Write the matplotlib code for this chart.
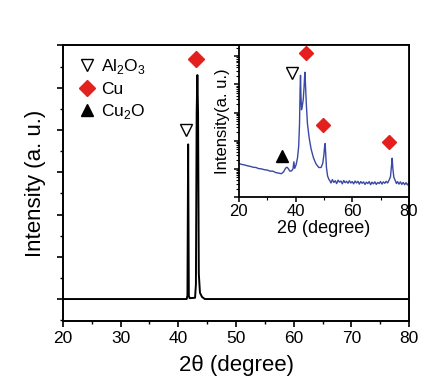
import matplotlib
matplotlib.use("Agg")
import matplotlib.pyplot as plt
from matplotlib.lines import Line2D
from matplotlib.ticker import MultipleLocator, LogLocator, NullFormatter

plt.rcParams['font.family'] = ['Liberation Sans', 'DejaVu Sans']
plt.rcParams['mathtext.fontset'] = 'custom'
plt.rcParams['mathtext.rm'] = 'Liberation Sans'

# ---------------- data ----------------
# main pattern (linear intensity, arbitrary units)
main_x = [20, 41.45, 41.58, 41.7, 41.82, 41.95, 42.9, 43.05, 43.18, 43.3, 43.42, 43.55, 43.75, 44.1, 44.6, 80]
main_y = [0, 0, 0.08, 3.66, 0.08, 0.02, 0.03, 0.35, 4.4, 5.3, 4.4, 0.6, 0.15, 0.05, 0.0, 0]

# inset pattern (log10 of intensity)
ins_x = [20, 21, 22, 23, 24, 25, 26, 27, 28, 29, 30, 31, 32, 33, 34, 35, 35.8, 36.5, 37, 37.5,
         38, 38.6, 39.1, 39.4, 39.7, 40.2, 40.7, 41.1, 41.4, 41.6, 41.75, 41.9, 42.1, 42.4, 42.7,
         43.0, 43.2, 43.35, 43.5, 43.8, 44.2, 44.8, 45.5, 46.3, 47.2, 48.2, 49.0, 49.6, 50.0, 50.3,
         50.45, 50.6, 50.9, 51.3, 51.8,
         52.0, 52.5, 53.0, 53.5, 54.0, 54.5, 55.0, 55.5, 56.0, 56.5, 57.0, 57.5, 58.0, 58.5, 59.0,
         59.5, 60.0, 60.5, 61.0, 61.5, 62.0, 62.5, 63.0, 63.5, 64.0, 64.5, 65.0, 65.5, 66.0, 66.5,
         67.0, 67.5, 68.0, 68.5, 69.0, 69.5, 70.0, 70.5, 71.0, 71.5, 72.0, 72.5, 73.0, 73.5, 73.85,
         74.1, 74.35, 74.7, 75.2, 75.6, 76.0, 76.5, 77.0, 77.5, 78.0, 78.5, 79.0, 79.5, 80.0]
ins_log = [1.19, 1.16, 1.14, 1.11, 1.09, 1.06, 1.05, 1.01, 1.00, 0.97, 0.96, 0.92, 0.92, 0.87, 0.85, 0.83, 0.90, 1.03, 1.06, 1.00,
           0.92, 0.93, 1.00, 1.25, 1.02, 1.15, 1.40, 1.80, 2.60, 3.80, 4.32, 3.60, 3.10, 3.25, 3.45,
           3.90, 4.30, 4.43, 4.00, 3.30, 2.60, 2.10, 1.70, 1.40, 1.18, 1.05, 1.05, 1.20, 1.50, 1.85,
           1.90, 1.60, 1.05, 0.75, 0.62,
           0.60, 0.50, 0.62, 0.52, 0.58, 0.48, 0.60, 0.53, 0.57, 0.47, 0.59, 0.51, 0.56, 0.49, 0.58,
           0.50, 0.55, 0.47, 0.57, 0.50, 0.56, 0.46, 0.55, 0.49, 0.54, 0.45, 0.53, 0.48, 0.55, 0.44,
           0.53, 0.47, 0.54, 0.45, 0.52, 0.48, 0.55, 0.46, 0.54, 0.49, 0.56, 0.50, 0.60, 0.72, 1.10,
           1.38, 1.00, 0.70, 0.58, 0.48, 0.55, 0.46, 0.54, 0.45, 0.52, 0.44, 0.51, 0.43, 0.50]

# peak markers
main_al2o3 = (41.3, 4.0)
main_cu = (43.05, 5.67)
ins_al2o3 = (38.7, 4.39)
ins_cu = [(43.6, 5.13), (49.6, 2.56), (73.0, 1.96)]
ins_cu2o = (35.2, 1.47)

legend_labels = ['Al$_2$O$_3$', 'Cu', 'Cu$_2$O']

RED = '#e3201e'
BLUE = '#3a48a6'

# ---------------- figure ----------------
fig = plt.figure(figsize=(4.32, 3.79), dpi=100)
ax = fig.add_axes([0.1458, 0.153, 0.801, 0.727])
ax.plot(main_x, main_y, color='black', lw=1.4)
ax.set_xlim(20, 80)
ax.set_ylim(-0.52, 6.0)
ax.xaxis.set_major_locator(MultipleLocator(10))
ax.xaxis.set_minor_locator(MultipleLocator(5))
ax.yaxis.set_major_locator(MultipleLocator(1))
ax.yaxis.set_minor_locator(MultipleLocator(0.5))
ax.set_yticklabels([])
ax.tick_params(which='major', direction='out', length=4, width=1.2, labelsize=12.5, pad=3)
ax.tick_params(which='minor', direction='out', length=2.2, width=1.0)
for s in ax.spines.values():
    s.set_linewidth(1.4)
ax.set_xlabel('2θ (degree)', fontsize=16, labelpad=7)
ax.set_ylabel('Intensity (a. u.)', fontsize=16, labelpad=5)

ax.plot(*main_al2o3, marker='v', ms=8.5, mfc='white', mec='black', mew=1.0, ls='none')
ax.plot(*main_cu, marker='D', ms=8, color=RED, ls='none')

handles = [Line2D([], [], marker='v', ms=8.5, mfc='white', mec='black', mew=1.0, ls='none'),
           Line2D([], [], marker='D', ms=8, color=RED, ls='none'),
           Line2D([], [], marker='^', ms=8.5, color='black', ls='none')]
ax.legend(handles, legend_labels, loc='upper left', bbox_to_anchor=(0.01, 0.995), frameon=False,
          fontsize=12.5, handletextpad=0.2, labelspacing=0.3, handlelength=1.2, borderaxespad=0.2)

# ---------------- inset ----------------
ins = fig.add_axes([0.553, 0.480, 0.3935, 0.400])
ins.plot(ins_x, [10 ** v for v in ins_log], color=BLUE, lw=1.0)
ins.set_yscale('log')
ins.set_xlim(20, 80)
ins.set_ylim(1, 10 ** 5.38)
ins.xaxis.set_major_locator(MultipleLocator(20))
ins.xaxis.set_minor_locator(MultipleLocator(10))
ins.yaxis.set_major_locator(LogLocator(base=10, numticks=10))
ins.yaxis.set_minor_locator(LogLocator(base=10, subs=range(2, 10), numticks=20))
ins.yaxis.set_major_formatter(NullFormatter())
ins.yaxis.set_minor_formatter(NullFormatter())
ins.tick_params(which='major', direction='out', length=3.5, width=1.1, labelsize=12, pad=1.5)
ins.tick_params(which='minor', direction='out', length=2, width=0.8)
for s in ins.spines.values():
    s.set_linewidth(1.3)
ins.set_xlabel('2θ (degree)', fontsize=13, labelpad=1)
ins.set_ylabel('Intensity(a. u.)', fontsize=12, labelpad=1)

ins.plot(ins_al2o3[0], 10 ** ins_al2o3[1], marker='v', ms=8, mfc='white', mec='black', mew=1.0, ls='none')
for cx, cy in ins_cu:
    ins.plot(cx, 10 ** cy, marker='D', ms=7.5, color=RED, ls='none')
ins.plot(ins_cu2o[0], 10 ** ins_cu2o[1], marker='^', ms=8, color='black', ls='none')

fig.savefig('out.png', dpi=100)
